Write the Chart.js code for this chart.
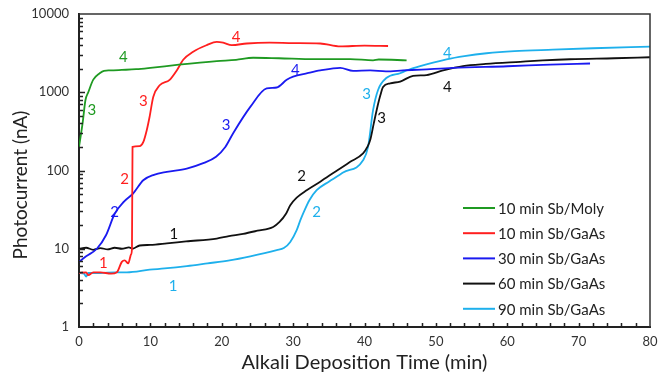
<!DOCTYPE html>
<html>
<head>
<meta charset="utf-8">
<script src="https://cdn.jsdelivr.net/npm/chart.js@4.4.1/dist/chart.umd.min.js"></script>
<style>
  body { margin: 0; background: #fff; }
  canvas { display: block; }
</style>
</head>
<body>
<canvas id="myChart" width="659" height="379"></canvas>
<script>
// data (time in min, photocurrent in nA)
const seriesNames = ['10 min Sb/Moly', '10 min Sb/GaAs', '30 min Sb/GaAs', '60 min Sb/GaAs', '90 min Sb/GaAs'];
const seriesColors = ['#1f9a22', '#ff1f1f', '#1a1af0', '#111111', '#1eb0ec'];

const molyX = [0, 0.5, 0.9, 1.3, 2, 2.9, 3.5, 4.3, 6, 8, 10, 14, 19.3, 22, 24.4, 28, 33, 38, 41.2, 42, 45.9];
const molyY = [200, 400, 790, 1000, 1450, 1750, 1880, 1900, 1930, 1970, 2050, 2250, 2500, 2600, 2760, 2720, 2650, 2650, 2560, 2620, 2560];

const gaas10X = [0, 1, 1.3, 2, 3, 4.5, 5.3, 6.0, 6.4, 6.9, 7.3, 7.42, 7.5, 8.5, 9.0, 9.5, 9.9, 10.4, 11.3, 12.7, 13.7, 14.6, 16.0, 17.9, 19.3, 20.2, 21.4, 23.5, 26.7, 30, 33.8, 36.6, 40, 43.3];
const gaas10Y = [4.9, 5.0, 4.6, 5.0, 5.0, 4.8, 5.0, 6.8, 7.1, 6.5, 8.5, 10, 200, 205, 230, 330, 490, 870, 1230, 1440, 1900, 2600, 3300, 4000, 4400, 4300, 4000, 4200, 4300, 4250, 4200, 3850, 3950, 3900];

const gaas30X = [0, 1, 2.5, 3.8, 5.0, 6.3, 7.6, 9.0, 10.5, 12.3, 15.1, 17.5, 19.2, 20.5, 21.6, 24.0, 26.3, 27.7, 29.1, 30.0, 32, 33.8, 36.6, 38.4, 40.8, 43, 45.4, 48, 52.4, 60, 66, 71.6];
const gaas30Y = [6.8, 8.0, 10, 15, 28, 40, 51, 75, 88, 96, 106, 125, 150, 200, 300, 650, 1120, 1150, 1440, 1580, 1750, 1900, 2050, 1880, 1900, 1850, 1900, 1950, 2050, 2150, 2250, 2330];

const gaas60X = [0, 1, 2, 3, 4, 5, 6, 7, 7.5, 8.5, 10, 12.3, 15, 19.3, 21, 23, 25, 27.2, 28.1, 29.0, 29.6, 30.5, 31.9, 33.8, 36, 38, 39.8, 40.4, 40.8, 41.3, 41.7, 42.2, 42.6, 43.6, 45.0, 46.8, 48.7, 51, 53.8, 57, 61.8, 65, 68.8, 75, 80];
const gaas60Y = [10, 10.3, 9.7, 10.2, 9.8, 10.3, 10, 10.4, 10, 11, 11.2, 11.7, 12.4, 13.5, 14.5, 15.5, 17, 19, 22, 28, 36, 45, 56, 72, 98, 129, 165, 200, 245, 400, 590, 900, 1170, 1300, 1370, 1620, 1660, 1900, 2160, 2300, 2450, 2550, 2640, 2720, 2800];

const gaas90X = [0, 0.7, 1.0, 1.3, 2, 3, 5, 6.7, 9.9, 12, 15.1, 18, 21.1, 24, 27.7, 28.7, 29.6, 30.5, 31.0, 31.5, 32.3, 33.3, 35, 37, 39.8, 40.5, 41.2, 41.9, 43.1, 45.0, 45.9, 47.8, 51.5, 54, 57.1, 61, 66.4, 72, 80];
const gaas90Y = [4.9, 4.8, 4.4, 4.9, 4.9, 4.9, 5.0, 5.0, 5.4, 5.6, 6.0, 6.5, 7.1, 8.0, 9.6, 10.2, 12.2, 17.3, 23, 29.6, 42, 56, 72, 94, 135, 200, 590, 1070, 1530, 1750, 1900, 2160, 2640, 2900, 3150, 3350, 3500, 3650, 3840];

// stage numbers written beside the curves: [series, x, y, text]
const stageLabels = [
    [0, 6.2, 2800, '4'], [0, 1.8, 590, '3'],
    [1, 22.0, 5000, '4'], [1, 9.0, 770, '3'], [1, 6.4, 77, '2'], [1, 3.4, 6.5, '1'],
    [2, 30.3, 1900, '4'], [2, 20.6, 380, '3'], [2, 5.0, 29, '2'],
    [3, 13.3, 15.3, '1'], [3, 31.2, 85, '2'], [3, 42.4, 465, '3'], [3, 51.6, 1170, '4'],
    [4, 13.2, 3.3, '1'], [4, 33.3, 29, '2'], [4, 40.3, 935, '3'], [4, 51.6, 3140, '4']
];

const yMajor = [1, 10, 100, 1000, 10000];

const allX = [molyX, gaas10X, gaas30X, gaas60X, gaas90X];
const allY = [molyY, gaas10Y, gaas30Y, gaas60Y, gaas90Y];

const FONT = 'Lato, "Open Sans", sans-serif';

const datasets = seriesNames.map((name, k) => ({
    label: name,
    data: allX[k].map((x, i) => ({ x: x, y: allY[k][i] })),
    borderColor: seriesColors[k],
    backgroundColor: seriesColors[k],
    borderWidth: 1.8,
    pointRadius: 0,
    fill: false,
    cubicInterpolationMode: 'monotone'
}));

// inward ticks, box frame, stage numbers, legend, y title
const decorPlugin = {
    id: 'decor',
    afterDraw(chart) {
        const ctx = chart.ctx;
        const a = chart.chartArea;
        const xs = chart.scales.x;
        const ys = chart.scales.y;
        ctx.save();

        // frame top and right
        ctx.strokeStyle = '#333';
        ctx.lineWidth = 1.5;
        ctx.beginPath();
        ctx.moveTo(a.left, a.top);
        ctx.lineTo(a.right, a.top);
        ctx.lineTo(a.right, a.bottom);
        ctx.stroke();

        // x ticks every 2 min, pointing up
        ctx.strokeStyle = '#222';
        ctx.lineWidth = 1.5;
        ctx.beginPath();
        for (let v = 2; v < 80; v += 2) {
            const px = Math.round(xs.getPixelForValue(v)) + 0.5;
            ctx.moveTo(px, a.bottom);
            ctx.lineTo(px, a.bottom - 4);
        }
        // y ticks, minor 2..9 per decade, pointing right
        for (let d = 1; d <= 1000; d *= 10) {
            for (let m = 1; m <= 9; m++) {
                if (m === 1 && d === 1) continue;
                const py = Math.round(ys.getPixelForValue(d * m)) + 0.5;
                const len = m === 1 ? 6 : 4;
                ctx.moveTo(a.left, py);
                ctx.lineTo(a.left + len, py);
            }
        }
        ctx.stroke();

        // stage numbers
        ctx.font = '15px ' + FONT;
        ctx.textAlign = 'center';
        ctx.textBaseline = 'middle';
        stageLabels.forEach(([s, x, y, t]) => {
            ctx.fillStyle = seriesColors[s];
            ctx.fillText(t, xs.getPixelForValue(x), ys.getPixelForValue(y));
        });

        // legend
        ctx.textAlign = 'left';
        chart.data.datasets.forEach((ds, i) => {
            const ly = 208 + i * 25.2;
            ctx.strokeStyle = ds.borderColor;
            ctx.lineWidth = 2;
            ctx.beginPath();
            ctx.moveTo(463, ly);
            ctx.lineTo(495, ly);
            ctx.stroke();
            ctx.fillStyle = '#222';
            ctx.fillText(ds.label, 498, ly + 1);
        });

        // y axis title
        ctx.translate(21, 185);
        ctx.rotate(-Math.PI / 2);
        ctx.textAlign = 'center';
        ctx.font = '19px ' + FONT;
        ctx.fillStyle = '#222';
        ctx.fillText('Photocurrent (nA)', 0, 0);
        ctx.restore();
    }
};

const ctx = document.getElementById('myChart').getContext('2d');
const chart = new Chart(ctx, {
    type: 'line',
    data: { datasets: datasets },
    options: {
        responsive: false,
        animation: false,
        layout: { padding: { top: 14, right: 9, left: 0, bottom: 0 } },
        plugins: {
            legend: { display: false },
            tooltip: { enabled: false }
        },
        scales: {
            x: {
                type: 'linear',
                min: 0,
                max: 80,
                ticks: {
                    stepSize: 10,
                    padding: 7,
                    color: '#333',
                    font: { family: FONT, size: 13 }
                },
                grid: { display: false, drawTicks: false },
                border: { color: '#222', width: 2 },
                title: {
                    display: true,
                    text: 'Alkali Deposition Time (min)',
                    color: '#222',
                    font: { family: FONT, size: 20 },
                    padding: { top: 0, bottom: 4 }
                },
                afterFit(scale) {
                    scale.height = 52;
                    scale.paddingLeft = 0;
                    scale.paddingRight = 0;
                }
            },
            y: {
                type: 'logarithmic',
                min: 1,
                max: 10000,
                afterBuildTicks(scale) {
                    scale.ticks = yMajor.map(v => ({ value: v }));
                },
                ticks: {
                    padding: 10,
                    color: '#333',
                    font: { family: FONT, size: 13 },
                    callback: v => String(v)
                },
                grid: { display: false, drawTicks: false },
                border: { color: '#222', width: 2 },
                afterFit(scale) {
                    scale.width = 79;
                    scale.paddingTop = 0;
                    scale.paddingBottom = 0;
                }
            }
        }
    },
    plugins: [decorPlugin]
});
</script>
</body>
</html>
